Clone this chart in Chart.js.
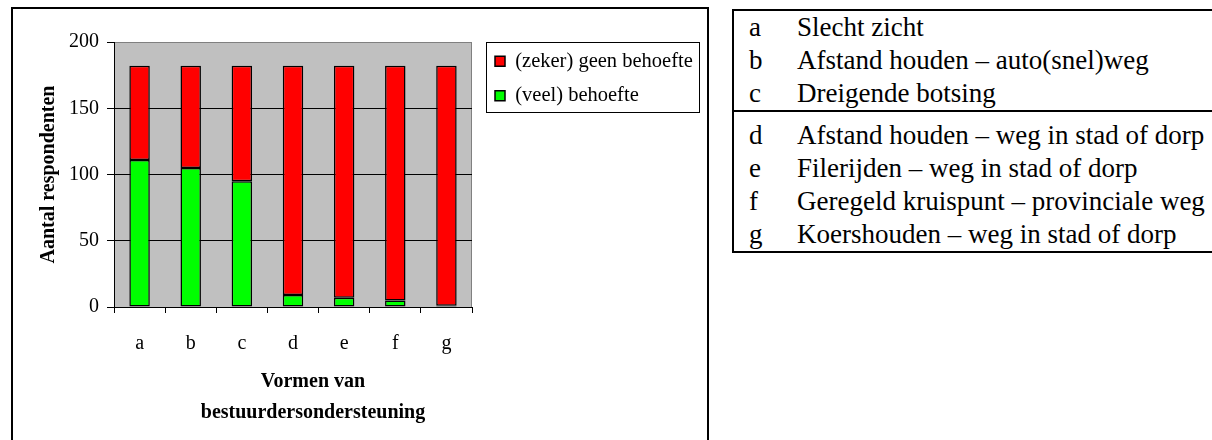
<!DOCTYPE html>
<html>
<head>
<meta charset="utf-8">
<script src="https://cdn.jsdelivr.net/npm/chart.js@4"></script>
<style>
    html, body { margin: 0; padding: 0; background: #fff; width: 1212px; height: 440px; overflow: hidden; }
    #chartBox { position: absolute; left: 11px; top: 7px; width: 694px; height: 440px; border: 2px solid #000; }
    #chartBox canvas { display: block; }
    #keyTable { position: absolute; left: 732px; top: 9px; width: 480px; border: 2px solid #000; border-right: none;
        font-family: 'Liberation Serif', 'Times New Roman', serif; font-size: 27px; color: #000; }
    .group + .group { border-top: 2px solid #000; padding-top: 7px; }
    .row { position: relative; height: 33px; line-height: 33px; white-space: nowrap; }
    .row .key { position: absolute; left: 15px; }
    .row .desc { position: absolute; left: 63px; }
</style>
</head>
<body>
<div id="chartBox"><canvas id="chart" width="694" height="431"></canvas></div>
<div id="keyTable"></div>
<script>
const categories = ['a', 'b', 'c', 'd', 'e', 'f', 'g'];
const descriptions = [
    'Slecht zicht',
    'Afstand houden – auto(snel)weg',
    'Dreigende botsing',
    'Afstand houden – weg in stad of dorp',
    'Filerijden – weg in stad of dorp',
    'Geregeld kruispunt – provinciale weg',
    'Koershouden – weg in stad of dorp'
];
const groupBreak = 3;

const veelBehoefte = [111, 105, 95, 9, 7, 5, 1];
const geenBehoefte = [71, 77, 87, 173, 175, 177, 181];
const seriesNames = ['(veel) behoefte', '(zeker) geen behoefte'];

const yMin = 0;
const yMax = 200;
const yStep = 50;
const yTitle = 'Aantal respondenten';
const xTitle = ['Vormen van', 'bestuurdersondersteuning'];

const serif = "'Liberation Serif', 'Times New Roman', serif";

// key table on the right
const table = document.getElementById('keyTable');
[categories.slice(0, groupBreak), categories.slice(groupBreak)].forEach((group, g) => {
    const groupDiv = document.createElement('div');
    groupDiv.className = 'group';
    group.forEach((cat, i) => {
        const row = document.createElement('div');
        row.className = 'row';
        row.innerHTML = `<span class="key">${cat}</span><span class="desc">${descriptions[g * groupBreak + i]}</span>`;
        groupDiv.appendChild(row);
    });
    table.appendChild(groupDiv);
});

const plotBackground = {
    id: 'plotBackground',
    beforeDraw(chart) {
        const { ctx, chartArea: ca } = chart;
        ctx.save();
        ctx.fillStyle = '#c0c0c0';
        ctx.fillRect(ca.left, ca.top, ca.right - ca.left, ca.bottom - ca.top);
        ctx.strokeStyle = '#808080';
        ctx.lineWidth = 1;
        ctx.beginPath();
        ctx.moveTo(ca.right - 0.5, ca.top);
        ctx.lineTo(ca.right - 0.5, ca.bottom);
        ctx.stroke();
        ctx.restore();
    }
};

const legendFrame = {
    id: 'legendFrame',
    afterLayout(chart) {
        const lg = chart.legend, ca = chart.chartArea;
        lg.left = ca.right + 9;
        lg.right = lg.left + lg.width + 20;
        lg.width = lg.right - lg.left;
        lg.top = ca.top - 5;
        lg.bottom = lg.top + lg.height;
    },
    afterDraw(chart) {
        const { ctx, legend: lg, chartArea: ca } = chart;
        const left = Math.round(ca.right + 14) + 0.5;
        const right = Math.round(Math.max(...lg.legendHitBoxes.map(h => h.left + h.width)) + 6) + 0.5;
        ctx.save();
        ctx.strokeStyle = '#000';
        ctx.lineWidth = 1;
        ctx.strokeRect(left, Math.round(ca.top) + 0.5, right - left, 70);
        ctx.restore();
    }
};

const xAxisTitle = {
    id: 'xAxisTitle',
    afterDraw(chart) {
        const { ctx, chartArea: ca } = chart;
        ctx.save();
        ctx.font = `bold 20px ${serif}`;
        ctx.fillStyle = '#000';
        ctx.textAlign = 'center';
        ctx.textBaseline = 'middle';
        const cx = (ca.left + ca.right) / 2 + 20;
        xTitle.forEach((line, i) => ctx.fillText(line, cx, ca.bottom + 75 + i * 31));
        ctx.restore();
    }
};

Chart.defaults.font.family = serif;
Chart.defaults.color = '#000';

new Chart(document.getElementById('chart'), {
    type: 'bar',
    data: {
        labels: categories,
        datasets: [{
            label: seriesNames[0],
            data: veelBehoefte,
            backgroundColor: '#00ff00',
            borderColor: '#000',
            borderWidth: 1.5,
            borderSkipped: false
        }, {
            label: seriesNames[1],
            data: geenBehoefte,
            backgroundColor: '#ff0000',
            borderColor: '#000',
            borderWidth: 1.5,
            borderSkipped: false
        }]
    },
    options: {
        responsive: false,
        animation: false,
        events: [],
        layout: { padding: { top: 33, left: 0, right: 30, bottom: 0 } },
        datasets: { bar: { categoryPercentage: 1, barPercentage: 0.4 } },
        scales: {
            x: {
                stacked: true,
                grid: { display: true, drawOnChartArea: false, drawTicks: true, tickLength: 6, color: '#000' },
                border: { display: true, color: '#000', width: 1 },
                ticks: { font: { size: 20 }, color: '#000', padding: 19 },
                afterFit: s => { s.height = 133; }
            },
            y: {
                stacked: true,
                min: yMin,
                max: yMax,
                ticks: { stepSize: yStep, font: { size: 20 }, color: '#000', padding: 8 },
                grid: {
                    color: c => (c.tick && c.tick.value === yMax ? '#808080' : '#000'),
                    tickColor: '#000',
                    tickLength: 7
                },
                border: { display: true, color: '#000', width: 1 },
                title: { display: true, text: yTitle, font: { size: 20, weight: 'bold' }, color: '#000', padding: { top: 24, bottom: 0 } },
                afterFit: s => { s.width = 101; }
            }
        },
        plugins: {
            legend: {
                position: 'right',
                align: 'start',
                fullSize: false,
                reverse: true,
                maxWidth: 205,
                labels: { boxWidth: 10, boxHeight: 10, padding: 14, font: { size: 20.5 }, color: '#000' }
            },
            tooltip: { enabled: false },
            title: { display: false }
        }
    },
    plugins: [plotBackground, legendFrame, xAxisTitle]
});
</script>
</body>
</html>
